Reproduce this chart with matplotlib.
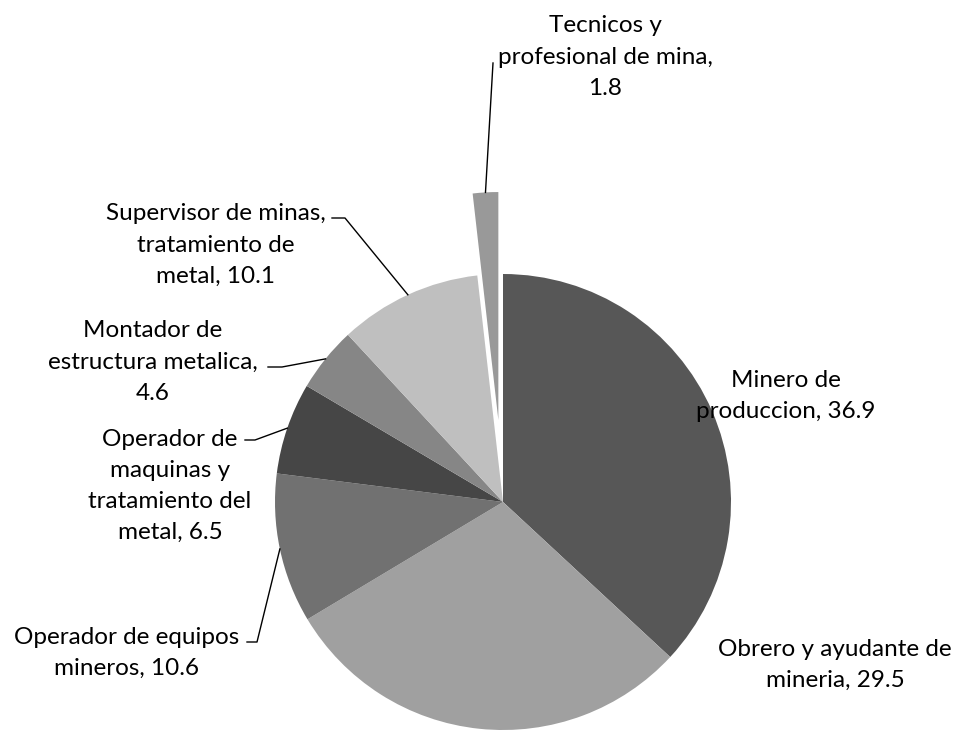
import numpy as np
import matplotlib
matplotlib.use("Agg")
import matplotlib.pyplot as plt

# ---- data ----
values = [36.9, 29.5, 10.6, 6.5, 4.6, 10.1, 1.8]
label_texts = [
    "Minero de\nproduccion, 36.9",
    "Obrero y ayudante de\nmineria, 29.5",
    "Operador de equipos\nmineros, 10.6",
    "Operador de\nmaquinas y\ntratamiento del\nmetal, 6.5",
    "Montador de\nestructura metalica,\n4.6",
    "Supervisor de minas,\ntratamiento de\nmetal, 10.1",
    "Tecnicos y\nprofesional de mina,\n1.8",
]

# ---- styles / layout ----
colors = ["#575757", "#a0a0a0", "#717171", "#464646", "#868686", "#bfbfbf", "#999999"]
explode_frac = [0, 0, 0, 0, 0, 0, 0.36]
W, H = 960, 730
cx, cy, R = 503, 502, 228  # image px
# label block centres (image px)
label_pos = [(786, 396), (835, 665), (127, 653), (170, 486), (153, 362), (216, 245), (605, 57)]
# leader line start points near the text (image px); None = no leader
leader_start = [None, None, (247, 642), (245, 440), (268, 367), (332, 218), (493, 63)]
leader_hook = [None, None, (257, 642), (255, 440), (282, 367), (345, 218), None]

plt.rcParams['font.family'] = ['Lato', 'DejaVu Sans']
fig = plt.figure(figsize=(W / 100, H / 100), dpi=100)
ax = fig.add_axes([0, 0, 1, 1])


def iy(y):
    return H - y


explode = [f * R for f in explode_frac]  # matplotlib explode is in data units
wedges, _ = ax.pie(values, colors=colors, explode=explode, startangle=90,
                   counterclock=False, center=(cx, iy(cy)), radius=R,
                   wedgeprops=dict(linewidth=0), frame=True)
ax.set_xlim(0, W)
ax.set_ylim(0, H)
ax.set_aspect('equal')
ax.axis('off')

total = sum(values)
cum = 0
for i, v in enumerate(values):
    mid = cum + v / 2
    cum += v
    ang = np.deg2rad(90 - 360 * mid / total)
    r_edge = R * (1 + explode_frac[i])
    ex, ey = cx + r_edge * np.cos(ang), iy(cy) + r_edge * np.sin(ang)
    lx, ly = label_pos[i]
    ax.text(lx, iy(ly), label_texts[i], ha='center', va='center', fontsize=17.5,
            linespacing=1.6, color='#000000')
    if leader_start[i] is not None:
        pts = [leader_start[i]]
        if leader_hook[i] is not None:
            pts.append(leader_hook[i])
        xs = [p[0] for p in pts] + [ex]
        ys = [iy(p[1]) for p in pts] + [ey]
        ax.plot(xs, ys, color='black', linewidth=1.0)

fig.savefig("out.png", dpi=100, facecolor='white')
